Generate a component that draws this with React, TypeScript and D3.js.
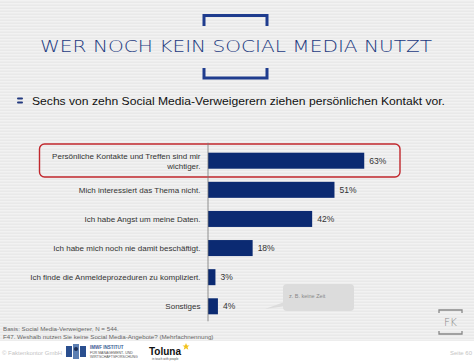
import React from 'react'
import * as d3 from 'd3'

const width = 474
const height = 364
const margin = { top: 146, right: 18, bottom: 45, left: 208 }

const categories = [
    ['Persönliche Kontakte und Treffen sind mir', 'wichtiger.'],
    ['Mich interessiert das Thema nicht.'],
    ['Ich habe Angst um meine Daten.'],
    ['Ich habe mich noch nie damit beschäftigt.'],
    ['Ich finde die Anmeldeprozeduren zu kompliziert.'],
    ['Sonstiges'],
]
const values = [63, 51, 42, 18, 3, 4]

const title = 'WER NOCH KEIN SOCIAL MEDIA NUTZT'
const subtitle = 'Sechs von zehn Social Media-Verweigerern ziehen persönlichen Kontakt vor.'
const notes = [
    'Basis: Social Media-Verweigerer, N = 544.',
    'F47. Weshalb nutzen Sie keine Social Media-Angebote? (Mehrfachnennung)',
]
const calloutText = 'z. B. keine Zeit'

const barColor = '#0b2a72'
const navy = '#22397f'
const font = 'Liberation Sans, Arial, sans-serif'

const xScale = d3
    .scaleLinear()
    .domain([0, 100])
    .range([margin.left, margin.left + 248])

const yScale = d3
    .scaleBand()
    .domain(d3.range(values.length).map(String))
    .range([146, 321])
    .paddingInner(0.45)
    .paddingOuter(0.23)

const App = () => {
    const bw = yScale.bandwidth()
    const y0 = yScale('0')
    const y5 = yScale('5')
    return (
        <svg
            width={width}
            height={height}
            style={{ position: 'absolute', left: 0, top: 0 }}
        >
            <defs>
                <pattern id="stripes" width="4" height="3" patternUnits="userSpaceOnUse">
                    <rect width="4" height="3" fill="#f2f2f2" />
                    <rect y="1.5" width="4" height="1.5" fill="#e9e9e9" />
                </pattern>
            </defs>
            <rect width={width} height={height} fill="#fff" />
            <rect width={width} height={341} fill="url(#stripes)" />

            {/* title brackets */}
            <path d="M204,26 V15.5 H267 V26" fill="none" stroke="#1f3c8e" strokeWidth={3} />
            <path d="M204,68 V78 H267 V68" fill="none" stroke="#1f3c8e" strokeWidth={3} />
            <text
                x={236}
                y={52}
                textAnchor="middle"
                fontFamily="DejaVu Sans, sans-serif"
                fontWeight={300}
                fontSize={16.5}
                fill={navy}
                textLength={392}
                lengthAdjust="spacingAndGlyphs"
            >
                {title}
            </text>

            {/* subtitle */}
            <g fill={navy}>
                <rect x={17} y={97.5} width={6} height={2} rx={1} />
                <rect x={17} y={101.5} width={6} height={2} rx={1} />
            </g>
            <text x={32} y={105} fontFamily={font} fontSize={11.5} fill="#111" textLength={413} lengthAdjust="spacingAndGlyphs">
                {subtitle}
            </text>

            {/* highlight */}
            <rect
                x={39.5}
                y={144}
                width={360.5}
                height={33}
                rx={5}
                fill="none"
                stroke="#c1272d"
                strokeWidth={1.4}
            />

            {/* bars */}
            {values.map((v, i) => {
                const y = yScale(String(i))
                return (
                    <g key={i}>
                        <rect
                            x={xScale(0)}
                            y={y}
                            width={xScale(v) - xScale(0)}
                            height={bw}
                            fill={barColor}
                        />
                        <text
                            x={xScale(v) + 5}
                            y={y + bw / 2}
                            dy="0.35em"
                            fontFamily={font}
                            fontSize={8.5}
                            fill="#333"
                        >
                            {v}%
                        </text>
                        {categories[i].map((line, j) => (
                            <text
                                key={j}
                                x={200.5}
                                y={y + bw / 2 + (j - (categories[i].length - 1) / 2) * 10}
                                dy="0.35em"
                                textAnchor="end"
                                fontFamily={font}
                                fontSize={8}
                                fill="#333"
                            >
                                {line}
                            </text>
                        ))}
                    </g>
                )
            })}
            <line
                x1={xScale(0)}
                x2={xScale(0)}
                y1={y0 - 10}
                y2={y5 + bw + 7}
                stroke="#777"
                strokeWidth={0.8}
            />

            {/* callout */}
            <path d="M286,306 L265,309 L290,300 Z" fill="#dcdcdc" />
            <rect x={283} y={284} width={71} height={27} rx={4} fill="#dcdcdc" />
            <text x={289} y={297.5} fontFamily={font} fontSize={5.5} fill="#888">
                {calloutText}
            </text>

            {/* FK logo */}
            <path d="M439,313 V310 H462 V313 M439,331 V334 H462 V331" fill="none" stroke="#888" strokeWidth={1.3} />
            <text x={450.5} y={326} textAnchor="middle" fontFamily="DejaVu Sans, sans-serif" fontWeight={200} fontSize={10.5} fill="#888">
                FK
            </text>

            {/* notes */}
            {notes.map((n, i) => (
                <text key={i} x={3} y={331 + i * 7.5} fontFamily={font} fontSize={6.2} fill="#666">
                    {n}
                </text>
            ))}

            {/* footer */}
            <text x={2} y={355} fontFamily={font} fontSize={6} fill="#c4c4c4">
                © Faktenkontor GmbH
            </text>
            <g>
                <rect x={66} y={346} width={6} height={11} fill="#2a4f8f" />
                <rect x={73} y={344} width={6} height={15} fill="#5c7fb2" />
                <rect x={80} y={346} width={6} height={11} fill="#2a4f8f" />
                <circle cx={76} cy={349} r={2} fill="#1a2e55" />
                <text x={90} y={349} fontFamily={font} fontSize={4.5} fill="#3b5b93" fontWeight="bold">
                    IMWF INSTITUT
                </text>
                <text x={90} y={354} fontFamily={font} fontSize={3.5} fill="#555">
                    FÜR MANAGEMENT- UND
                </text>
                <text x={90} y={358} fontFamily={font} fontSize={3.5} fill="#555">
                    WIRTSCHAFTSFORSCHUNG
                </text>
            </g>
            <g>
                <text x={149} y={355} fontFamily={font} fontWeight="bold" fontSize={10} fill="#111">
                    Toluna
                </text>
                <path d="M186,343 l1,2.5 2.5,0 -2,1.6 0.8,2.6 -2.3,-1.5 -2.3,1.5 0.8,-2.6 -2,-1.6 2.5,0 z" fill="#f2c21b" />
                <text x={152} y={360} fontFamily={font} fontSize={3} fill="#555">
                    in touch with people
                </text>
            </g>
            <text x={472} y={355} textAnchor="end" fontFamily={font} fontSize={6} fill="#c4c4c4">
                Seite 60
            </text>
        </svg>
    )
}

export default App
